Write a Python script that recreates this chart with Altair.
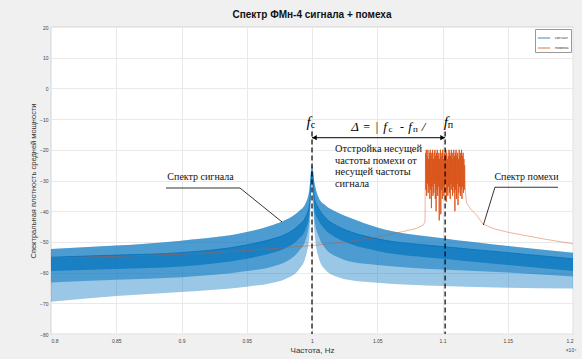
import altair as alt
import pandas as pd

# ---------------- data ----------------
# signal spectrum (blue band) envelopes, frequency in units of 10^4 Hz
blue_f = [0.8, 0.85, 0.9, 0.95, 0.97, 0.98, 0.99, 0.995, 0.998, 1.0,
          1.002, 1.005, 1.01, 1.02, 1.03, 1.05, 1.1, 1.15, 1.2]
blue_top = [-52.3, -51.2, -49.6, -46.8, -44.5, -42.8, -40.0, -37.5, -33.0, -25.0,
            -31.0, -35.5, -38.0, -40.5, -42.3, -45.3, -48.8, -51.3, -53.5]
blue_core_top = [-55.0, -54.3, -53.5, -51.0, -49.0, -47.5, -44.5, -42.0, -38.0, -27.0,
                 -36.0, -39.0, -42.0, -45.0, -46.8, -49.0, -51.5, -53.5, -55.5]
blue_core_bot = [-59.5, -58.8, -58.0, -55.5, -53.5, -52.0, -49.0, -46.0, -41.0, -29.0,
                 -40.0, -43.0, -46.0, -49.0, -50.8, -53.0, -55.5, -57.5, -59.5]
blue_mid_bot = [-63.2, -62.3, -61.5, -59.5, -58.0, -56.5, -53.0, -49.5, -43.0, -30.0,
                -43.0, -48.0, -52.0, -55.0, -56.5, -57.5, -59.0, -60.0, -61.3]
blue_bot = [-69.5, -67.6, -66.3, -64.6, -63.3, -62.0, -59.0, -55.0, -48.0, -31.0,
            -47.0, -55.0, -59.0, -61.5, -62.5, -63.3, -64.4, -64.9, -65.2]

# interference spectrum (orange line): left tail, noisy band, right tail
orange_left_f = [0.8, 0.85, 0.9, 0.95, 1.0, 1.03, 1.05, 1.07, 1.08, 1.085, 1.0866]
orange_left_v = [-55.2, -54.7, -54.0, -52.8, -51.2, -49.8, -48.4, -46.6, -45.6, -44.6, -43.5]
noise_f = [1.0870, 1.0873, 1.0876, 1.0879, 1.0882, 1.0885, 1.0888, 1.0891, 1.0894, 1.0897,
           1.0900, 1.0903, 1.0906, 1.0909, 1.0912, 1.0915, 1.0918, 1.0921, 1.0924, 1.0927,
           1.0930, 1.0933, 1.0936, 1.0939, 1.0942, 1.0945, 1.0948, 1.0951, 1.0954, 1.0957,
           1.0960, 1.0963, 1.0966, 1.0969, 1.0972, 1.0975, 1.0978, 1.0981, 1.0984, 1.0987,
           1.0990, 1.0993, 1.0996, 1.0999, 1.1002, 1.1005, 1.1008, 1.1011, 1.1014, 1.1017,
           1.1020, 1.1023, 1.1026, 1.1029, 1.1032, 1.1035, 1.1038, 1.1041, 1.1044, 1.1047,
           1.1050, 1.1053, 1.1056, 1.1059, 1.1062, 1.1065, 1.1068, 1.1071, 1.1074, 1.1077,
           1.1080, 1.1083, 1.1086, 1.1089, 1.1092, 1.1095, 1.1098, 1.1101, 1.1104, 1.1107,
           1.1110, 1.1113, 1.1116, 1.1119, 1.1122, 1.1125, 1.1128, 1.1131, 1.1134, 1.1137,
           1.1140, 1.1143, 1.1146, 1.1149, 1.1152, 1.1155, 1.1158, 1.1161, 1.1164, 1.1167,
           1.1170]
noise_v = [-21, -33, -20, -35, -22, -31, -20, -34, -23, -32,
           -21, -36, -20, -33, -22, -39, -21, -32, -20, -35,
           -23, -34, -21, -31, -20, -36, -22, -40, -21, -33,
           -20, -35, -22, -32, -21, -43, -23, -34, -20, -41,
           -22, -33, -21, -36, -20, -32, -23, -35, -21, -34,
           -22, -31, -20, -37, -21, -33, -23, -35, -22, -32,
           -20, -34, -21, -36, -22, -31, -20, -33, -21, -35,
           -23, -32, -20, -34, -22, -40, -21, -33, -20, -36,
           -22, -31, -21, -38, -23, -34, -20, -32, -22, -35,
           -21, -33, -20, -36, -22, -32, -21, -34, -23, -33,
           -25]
orange_right_f = [1.1176, 1.1185, 1.122, 1.1262, 1.131, 1.14, 1.1517, 1.177, 1.2]
orange_right_v = [-34.0, -37.4, -39.5, -41.3, -44.2, -45.8, -47.0, -49.0, -50.6]

x_ticks = [0.8, 0.85, 0.9, 0.95, 1.0, 1.05, 1.1, 1.15, 1.2]
y_ticks = [-80, -70, -60, -50, -40, -30, -20, -10, 0, 10, 20]
series = ["сигнал", "помеха"]
colors = ["#0072BD", "#D95319"]

# annotation marks
fc_x = 1.0
fp_x = 1.102
marker_top = -14.0
arrow_y = -16.06

sig_lead_f = [0.8881, 0.9448, 0.9770]
sig_lead_v = [-32.44, -32.44, -43.5]
pom_lead_f = [1.1885, 1.1402, 1.1313]
pom_lead_v = [-32.2, -32.2, -44.5]

ital_text = ["f", "f", "Δ", "f", "f", "/"]
ital_f = [0.9973, 1.1026, 1.0330, 1.0559, 1.0751, 1.0854]
ital_v = [-12.6, -12.6, -13.9, -13.9, -13.9, -13.9]
ital_size = [15, 15, 13, 13, 13, 13]

norm_text = ["с", "п", "=", "|", "-", "с", "п"]
norm_f = [1.0008, 1.1061, 1.0418, 1.0498, 1.0690, 1.0602, 1.0793]
norm_v = [-12.8, -12.8, -13.9, -13.9, -13.9, -14.2, -14.2]
norm_size = [10, 10, 12, 12, 12, 9, 9]

# ---------------- tables ----------------
blue_df = pd.DataFrame({"f": blue_f, "top": blue_top, "ct": blue_core_top,
                        "cb": blue_core_bot, "mb": blue_mid_bot, "bot": blue_bot,
                        "s": series[0]})
tails_df = pd.DataFrame({
    "f": orange_left_f + [noise_f[0]] + [noise_f[-1]] + orange_right_f,
    "v": orange_left_v + [noise_v[0]] + [noise_v[-1]] + orange_right_v,
    "g": ["l"] * (len(orange_left_f) + 1) + ["r"] * (len(orange_right_f) + 1),
})
tails_df["o"] = range(len(tails_df))
noise_df = pd.DataFrame({"f": noise_f, "v": noise_v, "s": series[1]})
noise_df["o"] = range(len(noise_df))
rules_df = pd.DataFrame({"f": [fc_x, fp_x], "v": [marker_top, marker_top], "v2": [-80, -80]})
arrow_df = pd.DataFrame({"f": [fc_x], "f2": [fp_x], "v": [arrow_y]})
heads_df = pd.DataFrame({"f": [fc_x + 0.0019, fp_x - 0.0019], "v": [arrow_y, arrow_y],
                         "shape": ["triangle-left", "triangle-right"]})
lead_df = pd.DataFrame({"f": sig_lead_f + pom_lead_f, "v": sig_lead_v + pom_lead_v,
                        "g": ["a"] * 3 + ["b"] * 3, "o": [0, 1, 2, 0, 1, 2]})
ital_df = pd.DataFrame({"f": ital_f, "v": ital_v, "t": ital_text, "sz": ital_size})
norm_df = pd.DataFrame({"f": norm_f, "v": norm_v, "t": norm_text, "sz": norm_size})
lab_df = pd.DataFrame({"f": [0.9146, 1.1644], "v": [-28.9, -29.0],
                       "t": ["Спектр сигнала", "Спектр помехи"]})
block_df = pd.DataFrame({"f": [1.0176], "v": [-18.1],
                         "t": ["Отстройка несущей\nчастоты помехи от\nнесущей частоты\nсигнала"]})
exp_df = pd.DataFrame({"f": [1.2], "v": [-80], "t": ["×10⁴"]})

# ---------------- encodings ----------------
xs = alt.Scale(domain=[0.8, 1.2], nice=False, zero=False)
ys = alt.Scale(domain=[-80, 20], nice=False, zero=False)
xax = alt.Axis(values=x_ticks, format="~g", title="Частота, Hz", grid=True,
               gridColor="#e9e9e9", ticks=False, domain=False, labelFontSize=5,
               labelColor="#444", labelPadding=4, titleFontSize=8,
               titleFontWeight="normal", titleColor="#333", titlePadding=3,
               labelFont="Liberation Sans", titleFont="Liberation Sans")
yax = alt.Axis(values=y_ticks, title="Спектральная плотность средней мощности",
               grid=True, gridColor="#e9e9e9", ticks=False, domain=False,
               labelFontSize=5, labelColor="#444", labelPadding=3, titleFontSize=7.5,
               titleFontWeight="normal", titleColor="#333", titlePadding=2,
               labelFont="Liberation Sans", titleFont="Liberation Sans")


def X(field):
    return alt.X(field, type="quantitative", scale=xs, axis=xax)


def Y(field):
    return alt.Y(field, type="quantitative", scale=ys, axis=yax)


cscale = alt.Scale(domain=series, range=colors)
blue = "#0072BD"
orange_c = "#D95319"

base_b = alt.Chart(blue_df)
band_light = base_b.mark_area(color=blue, opacity=0.4, interpolate="monotone", clip=True).encode(
    x=X("f"), y=Y("top"), y2="bot")
band_mid = base_b.mark_area(color=blue, opacity=0.5, interpolate="monotone", clip=True).encode(
    x=X("f"), y=Y("top"), y2="mb")
band_core = base_b.mark_area(color=blue, opacity=0.65, interpolate="monotone", clip=True).encode(
    x=X("f"), y=Y("ct"), y2="cb")
blue_line = base_b.mark_line(strokeWidth=0.8, interpolate="monotone", clip=True).encode(
    x=X("f"), y=Y("ct"),
    color=alt.Color("s:N", scale=cscale, legend=alt.Legend(title=None)))

tails = alt.Chart(tails_df).mark_line(strokeWidth=0.8, clip=True, color=orange_c,
                                      opacity=0.55).encode(
    x=X("f"), y=Y("v"), detail="g:N", order="o:Q")
noise = alt.Chart(noise_df).mark_line(strokeWidth=0.9, clip=True, opacity=1).encode(
    x=X("f"), y=Y("v"), order="o:Q",
    color=alt.Color("s:N", scale=cscale, legend=alt.Legend(title=None)))

dashed = alt.Chart(rules_df).mark_rule(color="black", strokeDash=[5, 3], strokeWidth=1.2).encode(
    x=X("f"), y=Y("v"), y2="v2")
arrow = alt.Chart(arrow_df).mark_rule(color="black", strokeWidth=1).encode(
    x=X("f"), x2="f2", y=Y("v"))
heads = alt.Chart(heads_df).mark_point(filled=True, color="black", size=28, opacity=1).encode(
    x=X("f"), y=Y("v"), shape=alt.Shape("shape:N", scale=None))
leaders = alt.Chart(lead_df).mark_line(color="black", strokeWidth=0.8).encode(
    x=X("f"), y=Y("v"), detail="g:N", order="o:Q")

serif = "Liberation Serif"
ital = alt.Chart(ital_df).mark_text(font=serif, fontStyle="italic", color="black",
                                    align="center", baseline="alphabetic").encode(
    x=X("f"), y=Y("v"), text="t:N", size=alt.Size("sz:Q", scale=None, legend=None))
norm = alt.Chart(norm_df).mark_text(font=serif, color="black",
                                    align="center", baseline="alphabetic").encode(
    x=X("f"), y=Y("v"), text="t:N", size=alt.Size("sz:Q", scale=None, legend=None))
labels = alt.Chart(lab_df).mark_text(font=serif, fontSize=10, color="#111",
                                     align="center", baseline="middle").encode(
    x=X("f"), y=Y("v"), text="t:N")
block = alt.Chart(block_df).mark_text(font=serif, fontSize=10.3, color="#111", align="left",
                                      baseline="top", lineBreak="\n", lineHeight=11.7).encode(
    x=X("f"), y=Y("v"), text="t:N")
expo = alt.Chart(exp_df).mark_text(font="Liberation Sans", fontSize=5, color="#444",
                                   align="center", baseline="middle", dx=-2, dy=16).encode(
    x=X("f"), y=Y("v"), text="t:N")

chart = alt.layer(
    band_light, band_mid, band_core, blue_line, tails, noise,
    dashed, arrow, heads, leaders, ital, norm, labels, block, expo
).properties(
    width=522, height=307,
    title=alt.TitleParams("Спектр ФМн-4 сигнала + помеха", font="Liberation Sans",
                          fontSize=10, fontWeight="bold", color="#111", offset=5),
    background="#f0f0f0",
    padding={"left": 51, "top": 27, "right": 9, "bottom": 25},
    autosize=alt.AutoSizeParams(type="none"),
).configure_view(
    fill="white", stroke="#a0a0a0", strokeWidth=0.8
).configure_legend(
    orient="top-right", offset=2, padding=2, rowPadding=1, symbolType="stroke",
    symbolSize=150, symbolStrokeWidth=0.8, labelFontSize=4, labelColor="#333",
    labelFont="Liberation Sans", strokeColor="#999", fillColor="white", cornerRadius=0
)

chart.save("out.html", embed_options={"renderer": "svg", "actions": False})
